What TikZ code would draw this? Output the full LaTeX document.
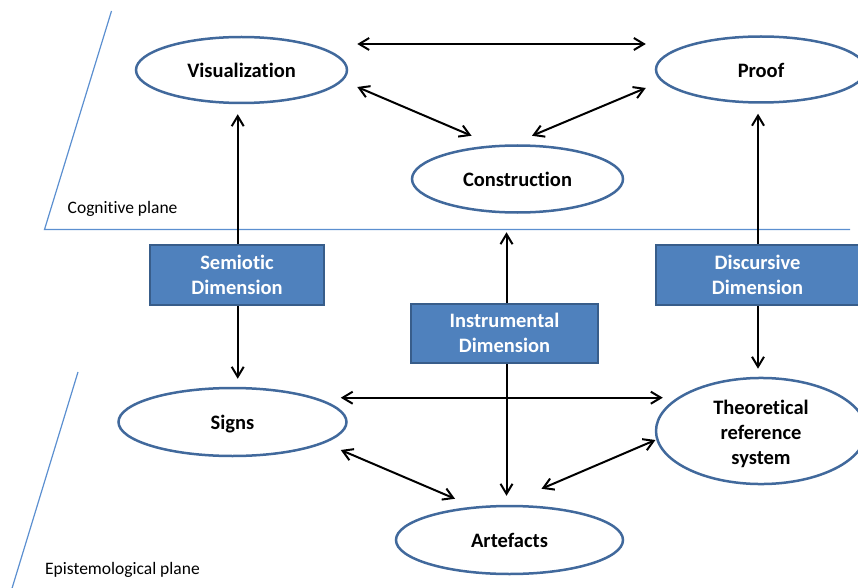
\documentclass[tikz,border=0pt]{standalone}
\usepackage{fontspec}
\setmainfont{Carlito}[Ligatures=NoCommon]
\usetikzlibrary{shapes.geometric,arrows.meta,calc}
\definecolor{boxfill}{HTML}{4F81BD}
\definecolor{boxline}{HTML}{385D8A}
\definecolor{ellline}{HTML}{41699C}
\definecolor{planeline}{HTML}{5B8FD0}
\newcommand{\nl}{\kern0pt }% breaks the ti ligature
\newcommand{\lowertext}[2]{\raisebox{-#1}[\height][\depth]{#2}}
\newcommand{\stacktext}[2]{\raisebox{-#1}[\height][\depth]{\begin{tabular}{@{}c@{}}#2\end{tabular}}}
\tikzset{
  ell/.style={ellipse, draw=ellline, line width=2.5pt, inner sep=0pt,
    font=\fontsize{20.5}{25}\selectfont\bfseries, align=center},
  dimbox/.style={rectangle, draw=boxline, fill=boxfill, line width=2pt, inner sep=0pt,
    text=white, font=\fontsize{20.5}{25}\selectfont\bfseries, align=center},
  plane/.style={draw=planeline, line width=1.2pt},
  planelabel/.style={anchor=west, inner sep=0pt, font=\fontsize{17.5}{21}\selectfont},
  conn/.style={draw=black, line width=2pt, -{Straight Barb[length=10pt,width=12pt]}},
  biconn/.style={draw=black, line width=2pt, {Straight Barb[length=10pt,width=12pt]}-{Straight Barb[length=10pt,width=12pt]}}
}
\begin{document}
\begin{tikzpicture}[x=1pt,y=-1pt]
\useasboundingbox (0,0) rectangle (858,588);
\clip (0,0) rectangle (858,588);
% planes
\draw[plane] (111.5,11) -- (44.5,229.5) -- (850,229.5);
\draw[plane] (78,372) -- (11.5,590);
\node[planelabel] (cog) at (67.5,208.5) {Cognit\nl ive plane};
\node[planelabel] (epi) at (45,570) {Epistemological plane};
% ellipses
\node[ell, minimum width=211pt, minimum height=66pt] (vis) at (241.5,70) {Visualizat\nl ion};
\node[ell, minimum width=210pt, minimum height=66pt] (proof) at (761,69.5) {\lowertext{1pt}{Proof}};
\node[ell, minimum width=211pt, minimum height=67pt] (constr) at (517.5,179) {Construct\nl ion};
\node[ell, minimum width=228pt, minimum height=68pt] (signs) at (232.5,422) {\lowertext{2pt}{Signs}};
\node[ell, minimum width=210pt, minimum height=86pt] (theo) at (761,431) {\stacktext{3.25pt}{Theoret\nl ical\\reference\\system}};
\node[ell, minimum width=227pt, minimum height=68pt] (art) at (509.5,540) {Artefacts};
% boxes
\node[dimbox, minimum width=174pt, minimum height=60pt] (semi) at (237,275) {\stacktext{1.5pt}{Semiot\nl ic\\Dimension}};
\node[dimbox, minimum width=203pt, minimum height=60pt] (disc) at (757.5,275) {\stacktext{1.5pt}{Discursive\\Dimension}};
\node[dimbox, minimum width=187pt, minimum height=59pt] (instr) at (504.5,333.5) {\stacktext{1.5pt}{Instrumental\\Dimension}};
% connectors
\draw[biconn] ($(vis.east)+(9,-26)$) -- ($(proof.west)+(-9,-25.5)$);
\draw[biconn] ($(vis.east)+(9,17)$) -- ($(constr.north)+(-46,-8.5)$);
\draw[biconn] ($(constr.north)+(14.5,-8.5)$) -- ($(proof.west)+(-9,18.5)$);
\draw[conn] ([xshift=0.7pt]semi.north) -- ($([xshift=0.7pt]semi.north|-vis.south)+(0,10)$);
\draw[conn] ([xshift=0.7pt]semi.south) -- ($([xshift=0.7pt]semi.south|-signs.north)+(0,-8)$);
\draw[conn] ([xshift=0.5pt]disc.north) -- ($([xshift=0.5pt]disc.north|-proof.south)+(0,10)$);
\draw[conn] ([xshift=0.5pt]disc.south) -- ($([xshift=0.5pt]disc.south|-theo.north)+(0,-8)$);
\draw[conn] ([xshift=2pt]instr.north) -- ($([xshift=2pt]instr.north|-constr.south)+(0,18.5)$);
\draw[conn] ([xshift=2pt]instr.south) -- ($([xshift=2pt]instr.south|-art.north)+(0,-9)$);
\draw[biconn] ($(signs.east)+(-7,-24.3)$) -- ($(theo.west)+(8,-33.3)$);
\draw[biconn] ($(signs.east)+(-7,28)$) -- ($(art.north)+(-54.5,-6)$);
\draw[biconn] ($(art.north)+(32,-16)$) -- ($(theo.west)+(0.7,9)$);
\end{tikzpicture}
\end{document}
